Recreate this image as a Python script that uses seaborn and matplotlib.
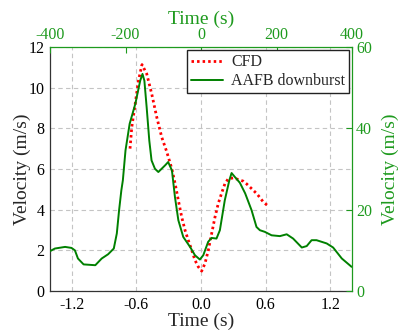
import numpy as np
import pandas as pd
import matplotlib
matplotlib.use("Agg")
import matplotlib.pyplot as plt
import seaborn as sns

# CFD result (bottom / left axes: time in s, velocity in m/s)
cfd_time = [-0.658, -0.642, -0.61, -0.58, -0.547, -0.503, -0.457, -0.41, -0.364, -0.318,
            -0.27, -0.24, -0.21, -0.179, -0.148, -0.118, -0.086, -0.056, -0.025, 0.006,
            0.037, 0.068, 0.099, 0.13, 0.16, 0.19, 0.222, 0.253, 0.3, 0.346,
            0.392, 0.42, 0.454, 0.485, 0.516, 0.547, 0.577, 0.624]
cfd_vel = [7.0, 8.05, 9.2, 10.34, 11.13, 10.67, 9.69, 8.54, 7.56, 6.85,
           6.0, 5.28, 4.46, 3.64, 2.99, 2.5, 2.01, 1.52, 1.19, 0.98,
           1.36, 2.01, 2.83, 3.64, 4.3, 4.79, 5.28, 5.52, 5.56, 5.48,
           5.4, 5.28, 5.11, 4.95, 4.79, 4.59, 4.38, 4.17]

# AAFB downburst record (top / right axes: time in s, velocity in m/s)
aafb_time = [-400, -387, -360, -343, -334, -326, -311, -280, -263, -246,
             -231, -223, -217, -211, -207, -200, -189, -174, -161, -155,
             -150, -144, -137, -131, -122, -113, -95, -87, -77, -69,
             -60, -47, -29, -16, -3, 6, 19, 28, 41, 50,
             63, 75, 81, 90, 103, 117, 134, 147, 156, 169,
             187, 209, 227, 244, 267, 280, 293, 306, 333, 350,
             373, 399]
aafb_vel = [9.8, 10.45, 10.85, 10.6, 10.0, 8.0, 6.55, 6.35, 8.0, 9.05,
            10.45, 14.15, 19.85, 24.75, 27.2, 34.55, 41.1, 46.0, 51.7, 53.35,
            51.7, 45.2, 37.0, 32.1, 30.05, 29.25, 30.9, 31.7, 29.65, 23.1,
            17.4, 13.3, 10.85, 8.8, 7.75, 8.8, 12.1, 13.05, 12.9, 14.95,
            22.3, 27.2, 29.0, 28.0, 26.6, 24.0, 19.85, 15.75, 14.95, 14.55,
            13.7, 13.5, 13.95, 12.9, 10.7, 11.05, 12.5, 12.5, 11.7, 10.7,
            8.0, 5.95]

bottom_ticks = [-1.2, -0.6, 0.0, 0.6, 1.2]
top_ticks = [-400, -200, 0, 200, 400]
left_ticks = [0, 2, 4, 6, 8, 10, 12]
right_ticks = [0, 20, 40, 60]

green = '#008000'
green_txt = '#1e9a1e'

sns.set_style("white")
plt.rcParams['font.family'] = ['Liberation Serif', 'DejaVu Serif']
plt.rcParams['axes.unicode_minus'] = False

cfd_df = pd.DataFrame({'t': cfd_time, 'v': cfd_vel})
aafb_df = pd.DataFrame({'t': aafb_time, 'v': aafb_vel})

fig = plt.figure(figsize=(4, 3.3), dpi=100)
ax = fig.add_axes([0.125, 0.118, 0.755, 0.740])
ax2 = fig.add_axes([0.125, 0.118, 0.755, 0.740], label='top_right')
ax2.patch.set_visible(False)

# main axes: CFD
sns.lineplot(data=cfd_df, x='t', y='v', ax=ax, color='red', lw=2.0,
             linestyle=(0, (0.9, 1.1)), estimator=None, legend=False)
ax.set_xlim(-1.4, 1.4)
ax.set_ylim(0, 12)
ax.set_xticks(bottom_ticks)
ax.set_xticklabels(['%.1f' % t for t in bottom_ticks])
ax.set_yticks(left_ticks)
ax.set_xlabel('Time (s)', fontsize=14, labelpad=0)
ax.set_ylabel('Velocity (m/s)', fontsize=14, labelpad=-2)
ax.tick_params(direction='in', length=4, width=0.8, labelsize=11.5, pad=4,
               top=False, right=False, colors='black')
ax.grid(True, color='#c4c4c4', linestyle=(0, (4, 3)), lw=0.8)
ax.set_axisbelow(True)
for s in ['top', 'right']:
    ax.spines[s].set_visible(False)
for s in ['left', 'bottom']:
    ax.spines[s].set_color('#333333')
    ax.spines[s].set_linewidth(0.9)

# twin axes: AAFB on top / right
sns.lineplot(data=aafb_df, x='t', y='v', ax=ax2, color=green, lw=1.4,
             estimator=None, legend=False)
ax2.set_xlim(-400, 400)
ax2.set_ylim(0, 60)
ax2.xaxis.tick_top()
ax2.xaxis.set_label_position('top')
ax2.yaxis.tick_right()
ax2.yaxis.set_label_position('right')
ax2.set_xticks(top_ticks)
ax2.set_yticks(right_ticks)
ax2.set_xlabel('Time (s)', fontsize=14, color=green_txt, labelpad=2)
ax2.set_ylabel('Velocity (m/s)', fontsize=14, color=green_txt, labelpad=7)
ax2.tick_params(direction='in', length=4, width=0.8, labelsize=11.5, pad=3,
                colors=green_txt, bottom=False, left=False)
ax2.grid(False)
for s in ['bottom', 'left']:
    ax2.spines[s].set_visible(False)
for s in ['top', 'right']:
    ax2.spines[s].set_color(green_txt)
    ax2.spines[s].set_linewidth(0.9)

# legend with both curves
handles = [ax.get_lines()[0], ax2.get_lines()[0]]
leg = ax2.legend(handles, ['CFD', 'AAFB downburst'], loc='upper right',
                 bbox_to_anchor=(0.99, 0.986), borderaxespad=0, fontsize=11.5,
                 frameon=True, fancybox=False, framealpha=1, edgecolor='#222222',
                 handlelength=2.0, handletextpad=0.5, borderpad=0.25,
                 labelspacing=0.2)
leg.get_frame().set_linewidth(1.0)

fig.savefig('out.png', dpi=100)
